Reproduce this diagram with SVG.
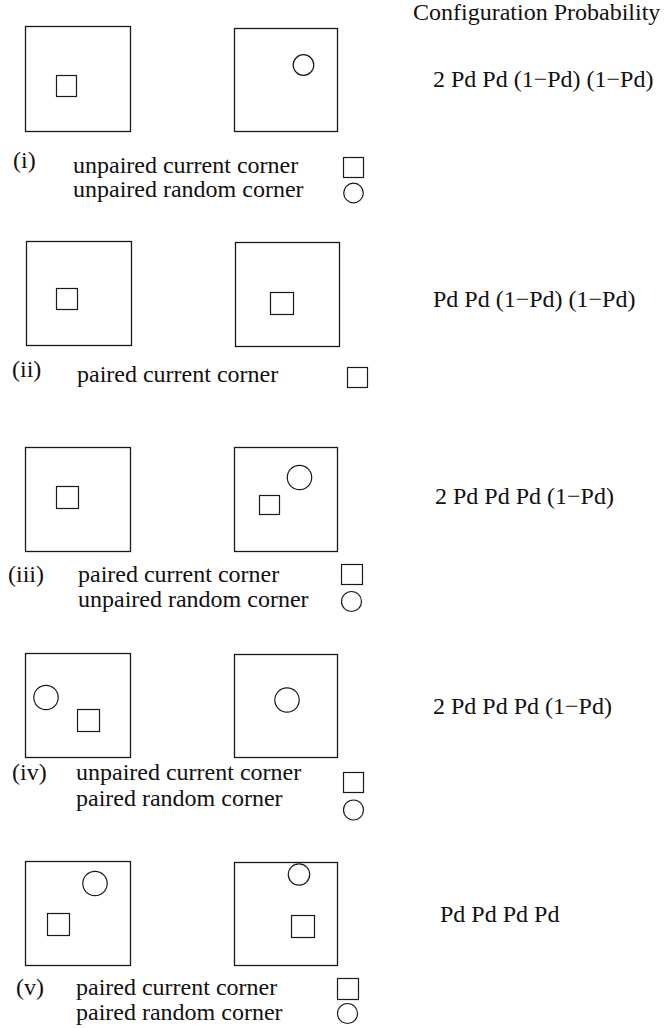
<svg xmlns="http://www.w3.org/2000/svg" width="664" height="1028" viewBox="0 0 664 1028">
<style>
  .box{fill:none;stroke:#1a1a1a;stroke-width:1.3}
  .sym{fill:none;stroke:#1a1a1a;stroke-width:1.2}
  text{font-family:"Liberation Serif","Times New Roman",serif;font-size:24px;fill:#111}
</style>
<rect width="664" height="1028" fill="#fff"/>
<g id="header"><text x="413" y="20">Configuration Probability</text></g>

<g id="row-i">
  <rect class="box" x="25.5" y="26.5" width="105" height="105"/>
  <rect class="sym" x="56.5" y="75.5" width="20" height="21"/>
  <rect class="box" x="234.5" y="28.5" width="103" height="103"/>
  <circle class="sym" cx="303.5" cy="65" r="10.3"/>
  <text x="13" y="168">(i)</text>
  <text x="73" y="173">unpaired current corner</text>
  <text x="73" y="197">unpaired random corner</text>
  <rect class="sym" x="343.5" y="157.5" width="20" height="20"/>
  <circle class="sym" cx="353.5" cy="193" r="9.8"/>
  <text x="433" y="87">2 Pd Pd (1−Pd) (1−Pd)</text>
</g>

<g id="row-ii">
  <rect class="box" x="26.5" y="241.5" width="105" height="104"/>
  <rect class="sym" x="56.5" y="288.5" width="21" height="21"/>
  <rect class="box" x="235.5" y="242.5" width="104" height="104"/>
  <rect class="sym" x="270.5" y="292.5" width="23" height="22"/>
  <text x="12" y="377">(ii)</text>
  <text x="77" y="382">paired current corner</text>
  <rect class="sym" x="347.5" y="367.5" width="20" height="20"/>
  <text x="433" y="307">Pd Pd (1−Pd) (1−Pd)</text>
</g>

<g id="row-iii">
  <rect class="box" x="25.5" y="447.5" width="105" height="104"/>
  <rect class="sym" x="56.5" y="486.5" width="22" height="22"/>
  <rect class="box" x="234.5" y="447.5" width="103" height="104"/>
  <circle class="sym" cx="299.5" cy="477.5" r="12.2"/>
  <rect class="sym" x="259.5" y="495.5" width="20" height="19"/>
  <text x="8" y="582">(iii)</text>
  <text x="78" y="582">paired current corner</text>
  <text x="78" y="607">unpaired random corner</text>
  <rect class="sym" x="341.5" y="564.5" width="21" height="20"/>
  <circle class="sym" cx="351.5" cy="601.5" r="10"/>
  <text x="435" y="504">2 Pd Pd Pd (1−Pd)</text>
</g>

<g id="row-iv">
  <rect class="box" x="25.5" y="653.5" width="105" height="104"/>
  <circle class="sym" cx="46" cy="697.5" r="12.2"/>
  <rect class="sym" x="77.5" y="709.5" width="22" height="22"/>
  <rect class="box" x="234.5" y="654.5" width="103" height="103"/>
  <circle class="sym" cx="287" cy="700" r="12.2"/>
  <text x="12" y="780">(iv)</text>
  <text x="76" y="780">unpaired current corner</text>
  <text x="76" y="806">paired random corner</text>
  <rect class="sym" x="343.5" y="772.5" width="20" height="20"/>
  <circle class="sym" cx="353.5" cy="810" r="10"/>
  <text x="433" y="714">2 Pd Pd Pd (1−Pd)</text>
</g>

<g id="row-v">
  <rect class="box" x="25.5" y="861.5" width="105" height="104"/>
  <circle class="sym" cx="95" cy="883.5" r="12.2"/>
  <rect class="sym" x="47.5" y="913.5" width="22" height="22"/>
  <rect class="box" x="234.5" y="862.5" width="103" height="103"/>
  <circle class="sym" cx="299" cy="874.5" r="10.7"/>
  <rect class="sym" x="291.5" y="915.5" width="23" height="22"/>
  <text x="16" y="995">(v)</text>
  <text x="76" y="995">paired current corner</text>
  <text x="76" y="1020">paired random corner</text>
  <rect class="sym" x="337.5" y="978.5" width="21" height="21"/>
  <circle class="sym" cx="347.5" cy="1013.5" r="10"/>
  <text x="440" y="922">Pd Pd Pd Pd</text>
</g>

<g id="connectors"></g>
</svg>
